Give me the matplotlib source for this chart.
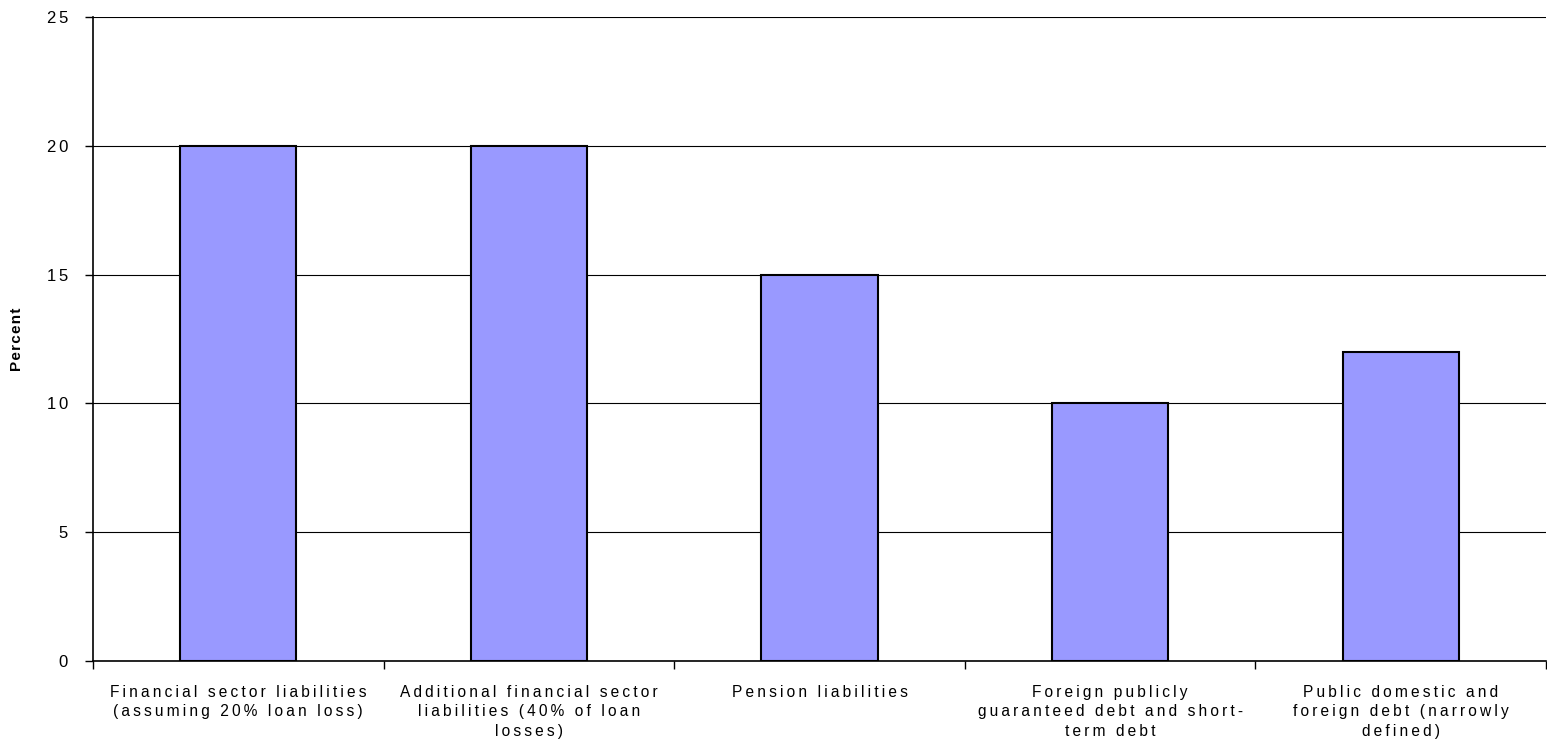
import matplotlib.pyplot as plt
import numpy as np

plt.rcParams['font.family'] = ['Liberation Sans', 'DejaVu Sans']

# categories and values (percent)
categories = [
    "Financial sector liabilities\n(assuming 20% loan loss)",
    "Additional financial sector\nliabilities (40% of loan\nlosses)",
    "Pension liabilities",
    "Foreign publicly\nguaranteed debt and short-\nterm debt",
    "Public domestic and\nforeign debt (narrowly\ndefined)",
]
values = [20, 20, 15, 10, 12]
y_ticks = [0, 5, 10, 15, 20, 25]


def spaced(s, sep="\u2009"):
    # old Excel export has wide letter spacing
    return "\n".join(sep.join(line) for line in s.split("\n"))


fig = plt.figure(figsize=(15.47, 7.45), dpi=100)
ax = fig.add_axes([93 / 1547, 1 - 661 / 745, 1 - 94 / 1547, (661 - 17) / 745])

x = np.arange(len(categories))
ax.bar(x, values, width=0.4, color='#9999FF', edgecolor='black', linewidth=1.5, zorder=3)

ax.set_xlim(-0.5, len(categories) - 0.5)
ax.set_ylim(0, 25)
ax.set_yticks(y_ticks)
ax.set_yticklabels([spaced(str(t), "\u200a\u200a") for t in y_ticks], fontsize=12)
ax.yaxis.grid(True, color='black', linewidth=0.8, zorder=0)
ax.tick_params(axis='y', length=6, width=1, pad=12)

ax.set_xticks(x)
ax.set_xticklabels([spaced(c) for c in categories], fontsize=11.2, linespacing=1.4)
ax.tick_params(axis='x', which='major', length=0, pad=17)
ax.set_xticks(np.arange(len(categories) + 1) - 0.5, minor=True)
ax.tick_params(axis='x', which='minor', length=6, width=1)

ax.set_ylabel(spaced('Percent', "\u200a"), fontsize=11, fontweight='bold', labelpad=16)

for side in ['top', 'right']:
    ax.spines[side].set_visible(False)
ax.spines['left'].set_linewidth(1.2)
ax.spines['bottom'].set_linewidth(1.2)

fig.savefig('out.png', dpi=100)
